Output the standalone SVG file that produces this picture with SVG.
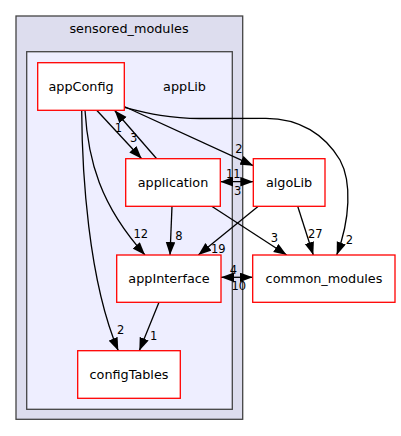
<svg xmlns="http://www.w3.org/2000/svg" width="401" height="436" viewBox="0 0 401 436">
<style>
text{font-family:"DejaVu Sans",sans-serif;fill:#000}
.lbl{font-size:12.8px;text-anchor:middle}
.el{font-size:11.5px;text-anchor:middle}
.node{fill:#fff;stroke:#ff0000;stroke-width:1.3}
.edge{fill:none;stroke:#000;stroke-width:1.3}
</style>
<defs>
<marker id="ah" markerUnits="userSpaceOnUse" markerWidth="14" markerHeight="10" refX="13" refY="4.8" orient="auto-start-reverse">
<path d="M0,0 L13,4.8 L0,9.6 z" fill="#000"/>
</marker>
</defs>
<g id="cluster_sensored_modules">
<rect x="16" y="16" width="226.7" height="403.3" fill="#ddddee" stroke="#444" stroke-width="1.3"/>
<text class="lbl" x="129" y="32.5">sensored_modules</text>
</g>
<g id="cluster_appLib">
<rect x="26.7" y="51.7" width="205.6" height="357.6" fill="#eeeeff" stroke="#444" stroke-width="1.3"/>
<text class="lbl" x="184.5" y="91">appLib</text>
</g>
<g id="edges">
<path class="edge" marker-end="url(#ah)" d="M81.7,110.3 C82,170 88,280 118.3,350.7"/>
<text class="el" x="120.7" y="334">2</text>
<path class="edge" marker-end="url(#ah)" d="M85,110.3 C88,160 100,205 145,255"/>
<text class="el" x="140.7" y="238">12</text>
<path class="edge" marker-end="url(#ah)" d="M96.7,110.3 L141.7,158.7"/>
<text class="el" x="133.7" y="142">3</text>
<path class="edge" marker-end="url(#ah)" d="M156.7,158.7 L114.5,110.3"/>
<text class="el" x="118.3" y="132">1</text>
<path class="edge" marker-end="url(#ah)" d="M124.3,106.5 L253.3,165.7"/>
<text class="el" x="239" y="153">2</text>
<path class="edge" marker-end="url(#ah)" d="M124.3,107.3 C150,114 170,118.5 200,118.5 L265,118.3 C300,118 325,135 340,160 C352,182 350,220 336.7,255"/>
<text class="el" x="349.3" y="243.5">2</text>
<path class="edge" marker-start="url(#ah)" marker-end="url(#ah)" d="M220.3,181.7 L253.3,181.7"/>
<text class="el" x="233.3" y="177.5">11</text>
<text class="el" x="237.7" y="195">3</text>
<path class="edge" marker-end="url(#ah)" d="M172,206.3 L170,255"/>
<text class="el" x="179" y="240">8</text>
<path class="edge" marker-end="url(#ah)" d="M211.7,206.3 L286.7,255"/>
<text class="el" x="274.3" y="241.5">3</text>
<path class="edge" marker-end="url(#ah)" d="M258.3,206.3 L198.3,255"/>
<text class="el" x="218.3" y="252.5">19</text>
<path class="edge" marker-end="url(#ah)" d="M297.7,206.3 L313.3,255"/>
<text class="el" x="315.3" y="238">27</text>
<path class="edge" marker-start="url(#ah)" marker-end="url(#ah)" d="M221,277.3 L252.7,277.3"/>
<text class="el" x="233.3" y="273.5">4</text>
<text class="el" x="238.7" y="290">10</text>
<path class="edge" marker-end="url(#ah)" d="M159,302.3 L139.3,350.7"/>
<text class="el" x="153.7" y="340">1</text>
</g>
<g id="appConfig">
<rect class="node" x="37.7" y="62.7" width="86.6" height="47.6"/>
<text class="lbl" x="81" y="91">appConfig</text>
</g>
<g id="application">
<rect class="node" x="125.7" y="158.7" width="94.6" height="47.6"/>
<text class="lbl" x="173" y="187">application</text>
</g>
<g id="algoLib">
<rect class="node" x="253.3" y="158.7" width="71.7" height="47.6"/>
<text class="lbl" x="289" y="187">algoLib</text>
</g>
<g id="appInterface">
<rect class="node" x="116.7" y="255" width="104.3" height="47.3"/>
<text class="lbl" x="169" y="283">appInterface</text>
</g>
<g id="common_modules">
<rect class="node" x="252.7" y="255" width="142.3" height="47.3"/>
<text class="lbl" x="324" y="283">common_modules</text>
</g>
<g id="configTables">
<rect class="node" x="77.7" y="350.7" width="102.6" height="47.6"/>
<text class="lbl" x="129" y="379">configTables</text>
</g>
</svg>
